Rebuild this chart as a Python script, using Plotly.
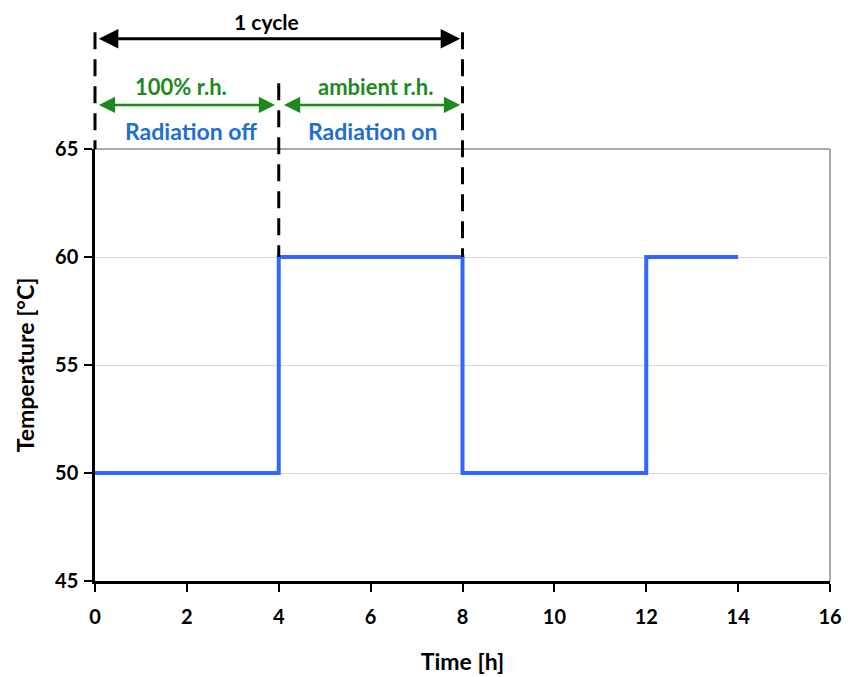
import plotly.graph_objects as go

# Data
time_h = [0, 4, 4, 8, 8, 12, 12, 14]
temperature = [50, 50, 60, 60, 50, 50, 60, 60]
x_ticks = [0, 2, 4, 6, 8, 10, 12, 14, 16]
y_ticks = [45, 50, 55, 60, 65]

FONT = "Lato"
BLUE_LINE = "#3366FF"
GREEN = "#1E8A1E"
BLUE_TXT = "#1F6FD0"

fig = go.Figure()
fig.add_trace(go.Scatter(x=time_h, y=temperature, mode="lines",
                         line=dict(color=BLUE_LINE, width=4), showlegend=False,
                         hoverinfo="skip"))

fig.update_layout(
    width=852, height=669,
    margin=dict(l=87, r=30, t=141, b=96),
    paper_bgcolor="white", plot_bgcolor="white",
    font=dict(family=FONT, color="black", size=20, weight="bold"),
    xaxis=dict(range=[0, 16], tickvals=x_ticks, ticks="outside", ticklen=8, tickwidth=2,
               tickcolor="black", showline=True, linecolor="black", linewidth=2.5,
               showgrid=False, zeroline=False, automargin=False, ticklabelstandoff=8,
               tickfont=dict(family=FONT, size=20, weight="bold"),
               title=dict(text="Time [h]", font=dict(family=FONT, size=23, weight="bold"), standoff=28)),
    yaxis=dict(range=[45, 65], tickvals=y_ticks, ticks="outside", ticklen=8, tickwidth=2,
               tickcolor="black", showline=True, linecolor="black", linewidth=2.5,
               showgrid=True, gridcolor="#D9D9D9", gridwidth=1, zeroline=False, automargin=False,
               ticklabelstandoff=2,
               tickfont=dict(family=FONT, size=20, weight="bold"),
               title=dict(text="Temperature [°C]", font=dict(family=FONT, size=23, weight="bold"), standoff=14)),
)

shapes = []
# gray plot border (top and right)
shapes.append(dict(type="line", xref="paper", yref="paper", x0=0, x1=1, y0=1, y1=1,
                   line=dict(color="#8C8C8C", width=1.5), layer="below"))
shapes.append(dict(type="line", xref="paper", yref="paper", x0=1, x1=1, y0=0, y1=1,
                   line=dict(color="#8C8C8C", width=1.5), layer="below"))
# dashed cycle lines
dash = "17px,10px"
shapes.append(dict(type="line", xref="paper", yref="paper", x0=0, x1=0, y0=1.27, y1=1.0,
                   line=dict(color="black", width=3, dash=dash), layer="above"))
for xv, y0, y1 in [(4, 1.152, 0.75), (8, 1.27, 0.75)]:
    shapes.append(dict(type="line", xref="x", yref="paper", x0=xv, x1=xv, y0=y0, y1=y1,
                       line=dict(color="black", width=3, dash=dash), layer="above"))
fig.update_layout(shapes=shapes)

def arrow(x_start, x_end, y, color, width):
    fig.add_annotation(x=x_end, y=y, xref="x", yref="paper", ax=x_start, ay=0,
                       axref="x", ayref="pixel", text="", showarrow=True,
                       arrowhead=2, startarrowhead=2, arrowside="end+start",
                       arrowsize=1.3, startarrowsize=1.3, arrowwidth=width, arrowcolor=color)

arrow(0.05, 7.95, 1.255, "black", 3)
arrow(0.05, 3.92, 1.102, GREEN, 2.5)
arrow(4.08, 7.95, 1.102, GREEN, 2.5)

def label(txt, x, y, color, size):
    fig.add_annotation(x=x, y=y, xref="x", yref="paper", text=txt, showarrow=False,
                       font=dict(family=FONT, size=size, color=color, weight="bold"),
                       xanchor="center", yanchor="middle")

label("1 cycle", 3.74, 1.294, "black", 21)
label("100% r.h.", 1.87, 1.144, GREEN, 22)
label("ambient r.h.", 6.1, 1.144, GREEN, 22)
label("Radiation off", 2.09, 1.042, BLUE_TXT, 23)
label("Radiation on", 6.03, 1.042, BLUE_TXT, 23)

fig.write_html("out.html")
